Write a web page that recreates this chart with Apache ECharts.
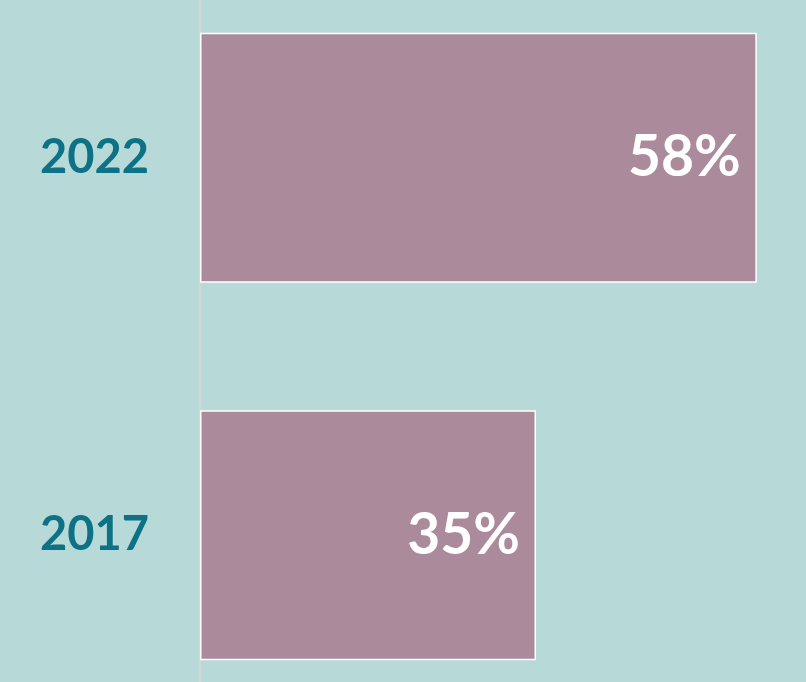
<!DOCTYPE html>
<html>
<head>
<meta charset="utf-8">
<script src="https://cdn.jsdelivr.net/npm/echarts@6/dist/echarts.min.js"></script>
<style>
	html, body { margin: 0; padding: 0; background: #b7d9d7; overflow: hidden; }
	#chart { position: absolute; left: 0; top: -31px; width: 806px; height: 755px; }
</style>
</head>
<body>
<div id="chart"></div>
<script>
	// categories from bottom to top for the y axis
	var years = ['2017', '2022']
	var shares = [35, 58]

	var chart = echarts.init(document.getElementById('chart'))
	chart.setOption({
		backgroundColor: '#b7d9d7',
		animation: false,
		grid: {
			left: 200,
			right: 30,
			top: 0,
			bottom: 0
		},
		xAxis: {
			type: 'value',
			min: 0,
			max: 60,
			show: false
		},
		yAxis: {
			type: 'category',
			data: years,
			axisLine: {
				show: true,
				lineStyle: { color: '#d3d6d6', width: 2 }
			},
			axisTick: { show: false },
			axisLabel: {
				margin: 51,
				color: '#0e7286',
				fontFamily: 'Lato',
				fontWeight: 'bold',
				fontSize: 47
			}
		},
		series: [{
			type: 'bar',
			data: shares,
			barCategoryGap: '33.8%',
			itemStyle: {
				color: '#ab8a9c',
				borderColor: '#ffffff',
				borderWidth: 1.5
			},
			label: {
				show: true,
				position: 'insideRight',
				distance: 16,
				formatter: '{c}%',
				color: '#ffffff',
				fontFamily: 'Lato',
				fontWeight: 'bold',
				fontSize: 57
			}
		}]
	})
	window.addEventListener('resize', function () {
		chart.resize()
	})
</script>
</body>
</html>
